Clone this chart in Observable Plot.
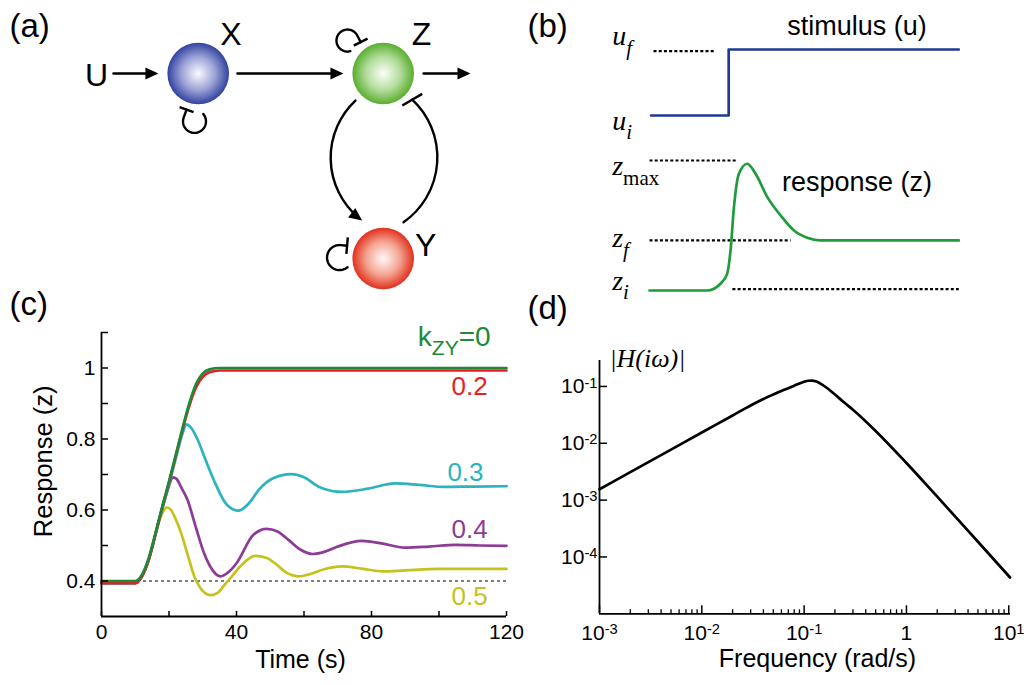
<!DOCTYPE html>
<html>
<head>
<meta charset="utf-8">
<script src="https://cdn.jsdelivr.net/npm/d3@7"></script>
<script src="https://cdn.jsdelivr.net/npm/@observablehq/plot@0.6"></script>
<style>
  html,body{margin:0;padding:0;background:#fff;}
  #fig{position:relative;width:1024px;height:685px;overflow:hidden;background:#fff;}
  #fig svg{position:absolute;}
</style>
</head>
<body>
<div id="fig"></div>
<script>
const SANS = '"Liberation Sans", Arial, Helvetica, sans-serif';
const SERIF = '"Liberation Serif", "Times New Roman", serif';

// ---------------- (a) network diagram (layout units: node spacing = 1) ----------------
const nodeIds = ["X", "Z", "Y"];
const nodeCol = [1, 2, 2];
const nodeRow = [0, 0, 1];
const nodeStops = [
  ["#fbfbff", "#9ba2d6", "#3142a0"],
  ["#fbfff8", "#b3dd9c", "#59ad2f"],
  ["#fff9f7", "#f4a391", "#e1301d"]
];
const nodeLabels = ["U", "X", "Z", "Y"];
const nodeLabelCol = [0.450, 1.177, 2.207, 2.229];
const nodeLabelRow = [0.011, -0.211, -0.208, 0.932];
// straight activation arrows: U->X, X->Z, Z->out
const straightFrom = [[0.542, 0], [1.212, 0], [2.218, 0]];
const straightTo = [[0.785, 0], [1.785, 0], [2.472, 0]];
// curved arrows Z->Y (activation, bend -50), Y-|Z (inhibition, bend -51)
const actFrom = [1.850, 0.146], actTo = [1.886, 0.795], actBend = -50;
const inhFrom = [2.110, 0.804], inhTo = [2.157, 0.141], inhBend = -51;
const inhBar = [[2.103, 0.173], [2.211, 0.110]];
// self-inhibition loops: centre, radius, start/end angle (deg), tail length, bar half-length
const loopCx = [0.980, 1.807, 1.764];
const loopCy = [0.259, -0.178, 0.995];
const loopR = [0.062, 0.0595, 0.0676];
const loopA0 = [-40, 75, 50];
const loopA1 = [200, 333, 275];
const loopExt = [0.045, 0.04, 0.035];
const loopBar = [0.040, 0.042, 0.045];

// ---------------- (b) schematic ----------------
const stimT = [0.5, 25.6, 25.6, 100];
const stimU = [1.346, 1.346, 1.854, 1.854];
const respT = [0, 18.65, 22.95, 25.1, 26.2, 27.3, 28.9, 31.6, 34.3, 38.1, 42.4, 46.7, 51.0, 55.3, 100];
const respZ = [0, 0, 0.052, 0.128, 0.308, 0.641, 0.898, 0.975, 0.898, 0.718, 0.577, 0.462, 0.406, 0.385, 0.385];
const guideFrom = [1.3, 0, 0, 26.8];
const guideTo = [21.3, 28.5, 45.6, 100];
const guideLevel = [1.841, 1.0, 0.385, 0.01];
const mathLabels = ["u_{f}", "u_{i}", "z_{!max}", "z_{f}", "z_{i}"];
const mathLevel = [1.885, 1.236, 0.885, 0.333, 0.005];
const wordLabels = ["stimulus (u)", "response (z)"];
const wordLevel = [1.967, 0.769];

// ---------------- (c) time courses ----------------
const kLabels = ["k_{ZY}=0", "0.2", "0.3", "0.4", "0.5"];
const seriesColors = ["#1c8a36", "#ec1c24", "#2bb4bd", "#8c3b97", "#c4c21b"];
const tK0 = [0, 10, 12, 14, 16, 18, 20, 22, 24, 26, 28, 30, 32, 35, 40, 120];
const zK0 = [0.4, 0.4, 0.418, 0.465, 0.535, 0.61, 0.68, 0.755, 0.83, 0.9, 0.955, 0.985, 0.996, 1, 1, 1];
const tK02 = [0, 10, 12, 14, 16, 18, 20, 22, 24, 26, 28, 30, 32, 35, 40, 120];
const zK02 = [0.394, 0.394, 0.413, 0.46, 0.532, 0.607, 0.678, 0.752, 0.826, 0.893, 0.945, 0.975, 0.988, 0.993, 0.993, 0.993];
const tK03 = [0, 10, 12, 14, 16, 18, 20, 21, 22, 23, 24, 25.2, 26.5, 28.4, 30.8, 33.3, 37.2, 40.6, 43.5, 46.9, 51, 56.2, 60, 64.5, 71.3, 79, 86.9, 94, 101.5, 110, 120];
const zK03 = [0.394, 0.394, 0.413, 0.46, 0.532, 0.605, 0.672, 0.708, 0.745, 0.782, 0.815, 0.841, 0.832, 0.8, 0.742, 0.684, 0.614, 0.598, 0.617, 0.66, 0.69, 0.701, 0.692, 0.665, 0.651, 0.66, 0.675, 0.671, 0.665, 0.666, 0.667];
const tK04 = [0, 10, 12, 14, 16, 17, 18, 19, 20, 21.1, 22.3, 23.5, 25.5, 28, 30.4, 32.8, 35.2, 38, 40, 45, 48.9, 52, 55.5, 59, 62.5, 66, 70, 77.1, 83, 89.8, 97, 105, 112, 120];
const zK04 = [0.394, 0.394, 0.413, 0.46, 0.532, 0.57, 0.603, 0.637, 0.668, 0.692, 0.687, 0.666, 0.628, 0.55, 0.478, 0.432, 0.413, 0.428, 0.45, 0.53, 0.547, 0.54, 0.515, 0.488, 0.476, 0.482, 0.497, 0.513, 0.506, 0.494, 0.497, 0.502, 0.5, 0.499];
const tK05 = [0, 10, 12, 14, 16, 17, 18, 19.4, 20.6, 21.8, 23.6, 25.5, 27.5, 30, 32.3, 34.5, 36.5, 38.2, 41, 45.5, 49, 52, 55, 58.3, 62, 66, 71.3, 77, 83.4, 90, 100, 110, 120];
const zK05 = [0.394, 0.394, 0.413, 0.46, 0.532, 0.566, 0.591, 0.607, 0.6, 0.578, 0.535, 0.475, 0.413, 0.372, 0.36, 0.367, 0.39, 0.408, 0.44, 0.471, 0.465, 0.445, 0.422, 0.413, 0.42, 0.433, 0.441, 0.435, 0.427, 0.43, 0.434, 0.434, 0.434];
const labelT = [115.3, 114.4, 113.2, 114.4, 114.4];
const labelZ = [1.063, 0.925, 0.683, 0.5225, 0.331];
const xTicksC = [0, 40, 80, 120];
const xMinorC = [0, 20, 40, 60, 80, 100, 120];
const yTicksC = [0.4, 0.6, 0.8, 1];
const yMinorC = [0.4, 0.5, 0.6, 0.7, 0.8, 0.9, 1.0, 1.1];

// ---------------- (d) frequency response ----------------
const freq = [0.001, 0.002, 0.005, 0.01, 0.02, 0.03, 0.04, 0.05, 0.06, 0.07, 0.08, 0.09, 0.1, 0.11, 0.12, 0.13, 0.15, 0.17, 0.2, 0.25, 0.3, 0.5, 1, 2, 5, 10.3];
const gain = [0.00155, 0.0031, 0.00775, 0.0155, 0.0308, 0.0462, 0.06, 0.072, 0.083, 0.093, 0.103, 0.113, 0.121, 0.126, 0.127, 0.123, 0.108, 0.092, 0.072, 0.051, 0.039, 0.0165, 0.0045, 0.00115, 0.000185, 0.0000435];
const xTicksD = [0.001, 0.01, 0.1, 1, 10];
const xMinorD = [-3, -2, -1, 0].flatMap(e => [2, 3, 4, 5, 6, 7, 8, 9].map(m => m * Math.pow(10, e)));
const yTicksD = [0.1, 0.01, 0.001, 0.0001];

const panelLabels = ["(a)", "(b)", "(c)", "(d)"];

// ---------------- helpers ----------------
const fig = document.getElementById("fig");
function rich(svg) {
  svg.querySelectorAll("text").forEach(t => {
    const s = t.textContent;
    if (!/[_^]\{/.test(s)) return;
    const F = parseFloat(getComputedStyle(t).fontSize) || 16;
    while (t.firstChild) t.removeChild(t.firstChild);
    const re = /([_^])\{(!?)([^}]*)\}/g;
    let last = 0, m, offset = 0;
    const add = (txt, size, shift, upright) => {
      const sp = document.createElementNS("http://www.w3.org/2000/svg", "tspan");
      if (size) sp.setAttribute("font-size", size + "px");
      if (shift) sp.setAttribute("dy", shift);
      if (upright) sp.setAttribute("font-style", "normal");
      sp.textContent = txt;
      t.appendChild(sp);
    };
    while ((m = re.exec(s))) {
      if (m.index > last) { add(s.slice(last, m.index), null, -offset); offset = 0; }
      const sub = m[1] === "_";
      const sh = sub ? 0.34 * F : -0.27 * F;
      add(m[3], (sub ? 0.75 : 0.7) * F, sh - offset, m[2] === "!");
      offset = sh;
      last = re.lastIndex;
    }
    if (last < s.length) add(s.slice(last), null, -offset);
  });
}
function place(svg, left, top) {
  svg.style.left = left + "px";
  svg.style.top = top + "px";
  fig.appendChild(svg);
  rich(svg);
}
const baseStyle = {fontFamily: SANS, background: "transparent", overflow: "visible", color: "black"};

// ---------------- build panel (a) ----------------
const nodes = nodeIds.map((id, i) => ({id, col: nodeCol[i], row: nodeRow[i], stops: nodeStops[i]}));
const gradientDefs = () => {
  const ns = "http://www.w3.org/2000/svg";
  const defs = document.createElementNS(ns, "defs");
  nodes.forEach(n => {
    const g = document.createElementNS(ns, "radialGradient");
    g.setAttribute("id", "grad" + n.id);
    g.setAttribute("cx", "50%"); g.setAttribute("cy", "50%"); g.setAttribute("r", "50%");
    [0, 0.55, 1].forEach((o, k) => {
      const st = document.createElementNS(ns, "stop");
      st.setAttribute("offset", o);
      st.setAttribute("stop-color", n.stops[k]);
      g.appendChild(st);
    });
    defs.appendChild(g);
  });
  return defs;
};
const loops = loopCx.map((cx, i) => {
  const pts = [];
  const n = 48;
  for (let k = 0; k <= n; k++) {
    const a = (loopA0[i] + (loopA1[i] - loopA0[i]) * k / n) * Math.PI / 180;
    pts.push({x: cx + loopR[i] * Math.cos(a), y: loopCy[i] + loopR[i] * Math.sin(a), id: i});
  }
  const a1 = loopA1[i] * Math.PI / 180;
  const ex = cx + loopR[i] * Math.cos(a1) - Math.sin(a1) * loopExt[i];
  const ey = loopCy[i] + loopR[i] * Math.sin(a1) + Math.cos(a1) * loopExt[i];
  pts.push({x: ex, y: ey, id: i});
  const bar = {x1: ex - Math.cos(a1) * loopBar[i], y1: ey - Math.sin(a1) * loopBar[i],
               x2: ex + Math.cos(a1) * loopBar[i], y2: ey + Math.sin(a1) * loopBar[i]};
  return {pts, bar};
});
// arrowhead directions (compass bearing: 0 = up, 90 = right); both axes share one unit length
const bearing = (f, t) => Math.atan2(t[0] - f[0], -(t[1] - f[1])) * 180 / Math.PI;
const heads = [
  ...straightTo.map((t, i) => ({x: t[0], y: t[1], rot: bearing(straightFrom[i], t)})),
  {x: actTo[0], y: actTo[1], rot: bearing(actFrom, actTo) + actBend}
];
let headMark = null;
try {
  headMark = Plot.vector(heads, {x: "x", y: "y", rotate: "rot", length: 13, r: 6, shape: "spike", anchor: "end", fill: "black", stroke: "none"});
} catch (e) { headMark = null; }
const HL = headMark ? 0 : 13;
const INS = headMark ? 5 : 0;
const LW = 2.4;
const plotA = Plot.plot({
  width: 512, height: 290, margin: 0,
  style: baseStyle,
  x: {domain: [0, 1], range: [12.7, 197.7], axis: null},
  y: {domain: [0, 1], range: [73, 258], axis: null},
  marks: [
    gradientDefs,
    Plot.arrow(straightFrom.map((f, i) => ({x1: f[0], y1: f[1], x2: straightTo[i][0], y2: straightTo[i][1]})),
      {x1: "x1", y1: "y1", x2: "x2", y2: "y2", stroke: "black", strokeWidth: LW, headLength: HL, headAngle: 55, insetEnd: INS}),
    Plot.arrow([{x1: actFrom[0], y1: actFrom[1], x2: actTo[0], y2: actTo[1]}],
      {x1: "x1", y1: "y1", x2: "x2", y2: "y2", bend: actBend, stroke: "black", strokeWidth: LW, headLength: HL, headAngle: 55, insetEnd: INS}),
    Plot.arrow([{x1: inhFrom[0], y1: inhFrom[1], x2: inhTo[0], y2: inhTo[1]}],
      {x1: "x1", y1: "y1", x2: "x2", y2: "y2", bend: inhBend, stroke: "black", strokeWidth: LW, headLength: 0}),
    Plot.link([{x1: inhBar[0][0], y1: inhBar[0][1], x2: inhBar[1][0], y2: inhBar[1][1]}],
      {x1: "x1", y1: "y1", x2: "x2", y2: "y2", stroke: "black", strokeWidth: LW}),
    headMark,
    Plot.line(loops.flatMap(l => l.pts), {x: "x", y: "y", z: "id", stroke: "black", strokeWidth: LW}),
    Plot.link(loops.map(l => l.bar), {x1: "x1", y1: "y1", x2: "x2", y2: "y2", stroke: "black", strokeWidth: LW}),
    ...nodes.map(n => Plot.dot([n], {x: "col", y: "row", r: 30.8, fill: `url(#grad${n.id})`, stroke: "none"})),
    Plot.text(nodeLabels, {x: (d, i) => nodeLabelCol[i], y: (d, i) => nodeLabelRow[i], text: d => d,
      fontSize: 32, fontFamily: SANS, textAnchor: "middle", lineAnchor: "middle", fill: "black"}),
    Plot.text([panelLabels[0]], {frameAnchor: "top-left", dx: 9, dy: 36, lineAnchor: "bottom", textAnchor: "start", fontSize: 33, fill: "black"})
  ]
});
place(plotA, 0, 0);

// ---------------- build panel (b) ----------------
const plotB = Plot.plot({
  width: 524, height: 310, margin: 0,
  style: baseStyle,
  x: {domain: [0, 100], range: [149, 458.3], axis: null},
  y: {domain: [0, 2], range: [290, 30], axis: null},
  marks: [
    Plot.link(guideFrom.map((a, i) => ({x1: a, x2: guideTo[i], y: guideLevel[i]})),
      {x1: "x1", x2: "x2", y1: "y", y2: "y", stroke: "black", strokeWidth: 2.2, strokeDasharray: "3,2.2"}),
    Plot.line(d3.zip(stimT, stimU), {x: d => d[0], y: d => d[1], stroke: "#203a94", strokeWidth: 2.7}),
    Plot.line(d3.zip(respT, respZ), {x: d => d[0], y: d => d[1], stroke: "#1f9b3a", strokeWidth: 2.7, curve: "monotone-x"}),
    Plot.text(mathLabels, {x: -12.06, y: (d, i) => mathLevel[i], text: d => d, textAnchor: "start", lineAnchor: "bottom",
      fontFamily: SERIF, fontStyle: "italic", fontSize: 28, fill: "black"}),
    Plot.text(wordLabels, {x: 67.1, y: (d, i) => wordLevel[i], text: d => d, textAnchor: "middle", lineAnchor: "bottom",
      fontFamily: SANS, fontSize: 27, fill: "black"}),
    Plot.text([panelLabels[1]], {frameAnchor: "top-left", dx: 27, dy: 36, lineAnchor: "bottom", textAnchor: "start", fontSize: 33, fill: "black"})
  ]
});
place(plotB, 500, 0);

// ---------------- build panel (c) ----------------
const seriesC = [[tK0, zK0], [tK02, zK02], [tK03, zK03], [tK04, zK04], [tK05, zK05]];
const plotC = Plot.plot({
  width: 530, height: 385, marginLeft: 101, marginRight: 24, marginTop: 32, marginBottom: 69,
  style: baseStyle,
  x: {domain: [0, 120]},
  y: {domain: [0.3, 1.1]},
  marks: [
    Plot.ruleY([0.4], {stroke: "black", strokeWidth: 1.2, strokeDasharray: "3,3"}),
    ...[4, 3, 2, 1, 0].map(i => Plot.line(d3.zip(seriesC[i][0], seriesC[i][1]),
      {x: d => d[0], y: d => d[1], stroke: seriesColors[i], strokeWidth: 2.7, curve: "monotone-x"})),
    Plot.ruleX([0], {y1: 0.3, y2: 1.1, stroke: "black", strokeWidth: 1.8}),
    Plot.ruleY([0.3], {stroke: "black", strokeWidth: 1.8}),
    Plot.axisX(xTicksC, {label: null, tickSize: 0, tickPadding: 8, fontSize: 21, tickFormat: d => String(d)}),
    Plot.axisX(xMinorC, {label: null, tickSize: -5, tickFormat: () => "", strokeWidth: 1.5}),
    Plot.axisY(yTicksC, {label: null, tickSize: 0, tickPadding: 6, fontSize: 21, tickFormat: d => d === 1 ? "1" : d.toFixed(1)}),
    Plot.axisY(yMinorC, {label: null, tickSize: -7, tickFormat: () => "", strokeWidth: 1.5}),
    ...kLabels.map((lab, i) => Plot.text([lab], {x: labelT[i], y: labelZ[i], text: d => d, textAnchor: "end", lineAnchor: "bottom",
      fontSize: i === 0 ? 28 : 26, fill: seriesColors[i]})),
    Plot.text(["Time (s)"], {frameAnchor: "bottom", dx: -3.5, dy: 51, lineAnchor: "bottom", fontSize: 25, fill: "black"}),
    Plot.text(["Response (z)"], {frameAnchor: "left", dx: -49.3, dy: -13.2, rotate: -90, lineAnchor: "bottom", textAnchor: "middle", fontSize: 25.5, fill: "black"}),
    Plot.text([panelLabels[2]], {frameAnchor: "top-left", dx: -92, dy: -18, lineAnchor: "bottom", textAnchor: "start", fontSize: 33, fill: "black"})
  ]
});
place(plotC, 0, 300);

// ---------------- build panel (d) ----------------
const logFmt = d => d === 1 ? "1" : "10^{" + Math.round(Math.log10(d)) + "}";
const plotD = Plot.plot({
  width: 504, height: 385, marginLeft: 79, marginRight: 14, marginTop: 60, marginBottom: 71.7,
  style: baseStyle,
  x: {type: "log", domain: [0.001, 10.4]},
  y: {type: "log", domain: [1e-5, 0.286]},
  marks: [
    Plot.line(d3.zip(freq, gain), {x: d => d[0], y: d => d[1], stroke: "black", strokeWidth: 2.7, curve: "monotone-x"}),
    Plot.ruleX([0.001], {y1: 1e-5, y2: 0.286, stroke: "black", strokeWidth: 1.8}),
    Plot.ruleY([1e-5], {stroke: "black", strokeWidth: 1.8}),
    Plot.axisX(xTicksD, {label: null, tickSize: 0, tickPadding: 11, fontSize: 21, tickFormat: logFmt}),
    Plot.axisX(xTicksD, {label: null, tickSize: -8, tickFormat: () => "", strokeWidth: 1.5}),
    Plot.axisX(xMinorD, {label: null, tickSize: -4, tickFormat: () => "", strokeWidth: 1.3}),
    Plot.axisY(yTicksD, {label: null, tickSize: 0, tickPadding: 2, fontSize: 21, tickFormat: logFmt}),
    Plot.axisY(yTicksD, {label: null, tickSize: -8, tickFormat: () => "", strokeWidth: 1.5}),
    Plot.text(["|H(iω)|"], {x: 0.00125, y: 0.218, textAnchor: "start", lineAnchor: "bottom", fontFamily: SERIF, fontStyle: "italic", fontSize: 26, fill: "black"}),
    Plot.text(["Frequency (rad/s)"], {x: 0.135, frameAnchor: "bottom", dy: 53.4, lineAnchor: "bottom", fontSize: 25, fill: "black"}),
    Plot.text([panelLabels[3]], {frameAnchor: "top-left", dx: -72, dy: -42, lineAnchor: "bottom", textAnchor: "start", fontSize: 33, fill: "black"})
  ]
});
place(plotD, 520, 300);
</script>
</body>
</html>
